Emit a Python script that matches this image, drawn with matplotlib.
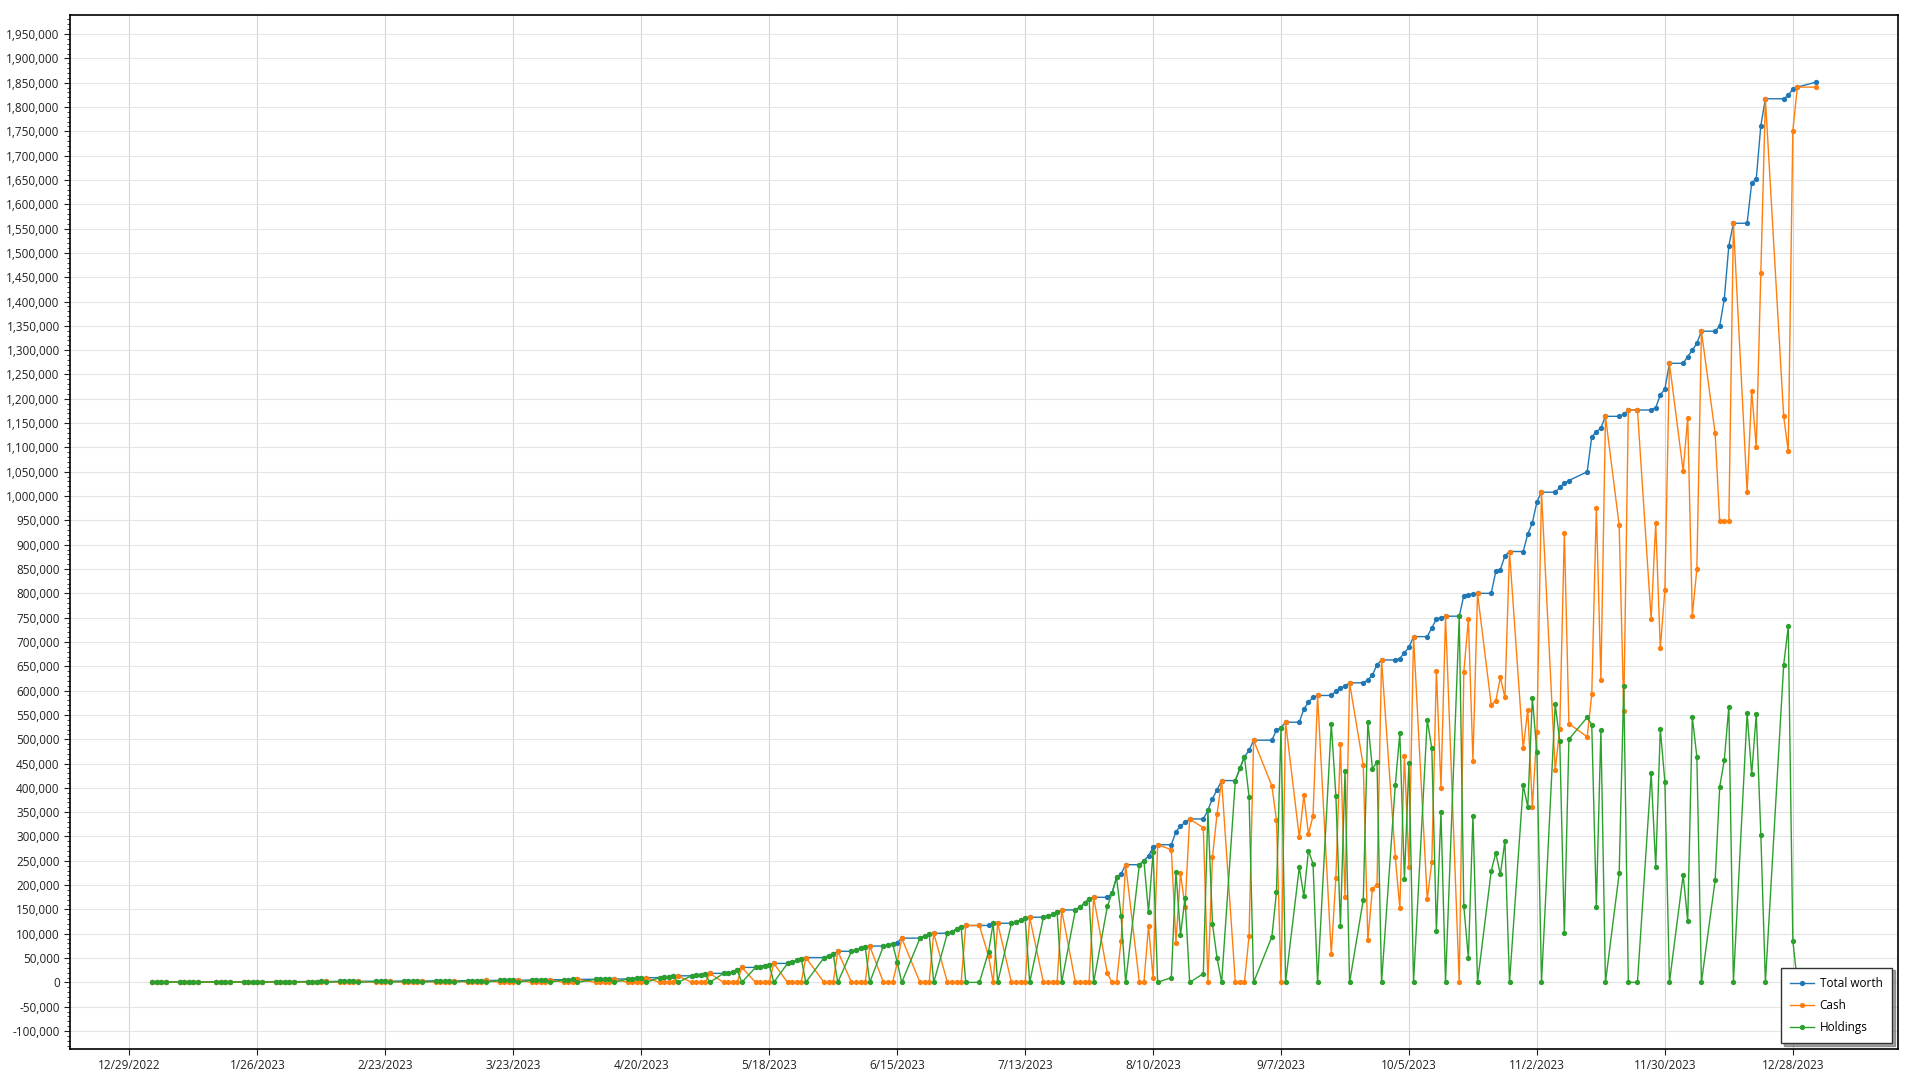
import numpy as np
import pandas as pd
import matplotlib
matplotlib.use("Agg")
import matplotlib.pyplot as plt
from matplotlib.ticker import FuncFormatter, MultipleLocator

plt.rcParams['font.family'] = ['Open Sans', 'DejaVu Sans']

# trading days (no data on 11/10)
holidays = ['2023-01-02', '2023-01-16', '2023-02-20', '2023-04-07', '2023-05-29',
            '2023-06-19', '2023-07-04', '2023-09-04', '2023-11-10', '2023-11-23',
            '2023-12-25', '2024-01-01']
dates = pd.bdate_range('2023-01-03', '2024-01-02', freq='C', holidays=holidays)

# values in thousands, one line per week
total_k = [
    1.00, 1.01, 1.03, 1.06,
    1.06, 1.08, 1.10, 1.13, 1.16,
    1.16, 1.20, 1.24, 1.28,
    1.28, 1.32, 1.36, 1.40, 1.45,
    1.45, 1.50, 1.55, 1.60, 1.65,
    1.65, 1.70, 1.75, 1.82, 1.90,
    1.90, 1.95, 2.00, 2.10, 2.20,
    2.20, 2.30, 2.40, 2.50,
    2.50, 2.60, 2.70, 2.80, 2.90,
    2.90, 3.00, 3.10, 3.25, 3.40,
    3.40, 3.55, 3.70, 3.85, 4.00,
    4.00, 4.15, 4.30, 4.45, 4.60,
    4.60, 4.80, 5.00, 5.20, 5.40,
    5.40, 5.70, 6.00, 6.20,
    6.20, 6.40, 6.60, 6.80, 7.00,
    7.00, 7.60, 8.40, 9.00, 9.60,
    9.60, 10.5, 11.5, 12.5, 13.5,
    13.5, 14.5, 15.5, 16.8, 18.5,
    18.5, 19.5, 20.6, 25.0, 30.8,
    30.8, 32.5, 34.5, 36.5, 39.0,
    39.0, 41.0, 45.0, 49.0, 51.0,
    51.0, 55.0, 58.0, 64.0,
    64.0, 66.5, 70.0, 73.0, 74.7,
    74.7, 77.0, 79.0, 81.6, 91.0,
    91.0, 96.0, 99.4, 101.0,
    101.0, 104.0, 110.0, 113.0, 117.0,
    117.0, 117.0, 121.6, 121.6,
    121.6, 124.0, 128.0, 132.0, 134.0,
    134.0, 137.0, 140.0, 144.0, 149.0,
    149.0, 154.5, 163.0, 172.0, 175.0,
    175.0, 183.0, 216.0, 223.0, 242.0,
    242.0, 250.0, 260.0, 278.0, 283.0,
    283.0, 310.0, 321.5, 329.0, 336.0,
    336.0, 354.0, 378.0, 396.0, 415.0,
    415.0, 440.0, 464.0, 477.0, 498.0,
    498.0, 519.0, 524.0, 535.0,
    535.0, 562.0, 576.0, 586.0, 590.0,
    590.0, 599.0, 606.0, 609.0, 616.0,
    616.0, 622.0, 632.0, 653.0, 663.0,
    663.0, 666.0, 678.0, 689.0, 711.0,
    711.0, 729.0, 747.0, 750.0, 753.0,
    753.0, 795.0, 797.0, 799.0, 800.0,
    800.0, 845.0, 849.0, 877.0, 886.0,
    886.0, 922.0, 945.0, 988.0, 1008.0,
    1008.0, 1018.0, 1026.0, 1032.0,
    1050.0, 1122.0, 1132.0, 1140.0, 1164.0,
    1164.0, 1168.0, 1177.0, 1177.0,
    1177.0, 1182.0, 1208.0, 1220.0, 1273.0,
    1273.0, 1287.0, 1300.0, 1314.0, 1339.0,
    1339.0, 1350.0, 1405.0, 1515.0, 1561.0,
    1561.0, 1644.0, 1652.0, 1762.0, 1817.0,
    1817.0, 1824.0, 1837.0, 1841.0,
    1851.0,
]

cash_k = [
    0, 0, 0, 1.06,
    0, 0, 0, 0, 1.16,
    0, 0, 0, 1.28,
    0, 0, 0, 0, 1.45,
    0, 0, 0, 0, 1.65,
    0, 0, 0, 0, 1.90,
    0, 0, 0, 0, 2.20,
    0, 0, 0, 2.50,
    0, 0, 0, 0, 2.90,
    0, 0, 0, 0, 3.40,
    0, 0, 0, 0, 4.00,
    0, 0, 0, 0, 4.60,
    0, 0, 0, 0, 5.40,
    0, 0, 0, 6.20,
    0, 0, 0, 0, 7.00,
    0, 0, 0, 0, 9.60,
    0, 0, 0, 0, 13.5,
    0, 0, 0, 0, 18.5,
    0, 0, 0, 0, 30.8,
    0, 0, 0, 0, 39.0,
    0, 0, 0, 0, 51.0,
    0, 0, 0, 64.0,
    0, 0, 0, 0, 74.7,
    0, 0, 0, 39.6, 91.0,
    0, 0, 0, 101.0,
    0, 0, 0, 0, 117.0,
    117.0, 54.0, 0, 121.6,
    0, 0, 0, 0, 134.0,
    0, 0, 0, 0, 149.0,
    0, 0, 0, 0, 175.0,
    18.5, 0, 0, 86.0, 242.0,
    0, 0, 116.0, 9.6, 283.0,
    273.0, 82.0, 224.0, 155.6, 336.0,
    318.0, 0, 258.0, 346.0, 415.0,
    0, 0, 0, 95.0, 498.0,
    404.0, 334.0, 0, 535.0,
    298.0, 385.0, 305.0, 342.0, 590.0,
    58.0, 215.0, 490.0, 175.0, 616.0,
    446.0, 87.0, 193.0, 200.0, 663.0,
    258.0, 153.0, 466.0, 237.0, 711.0,
    171.0, 248.0, 641.0, 400.0, 753.0,
    0, 638.0, 747.0, 456.0, 800.0,
    571.0, 579.0, 627.0, 586.0, 886.0,
    481.0, 561.0, 360.0, 515.0, 1008.0,
    436.0, 522.0, 925.0, 532.0,
    505.0, 592.0, 976.0, 621.0, 1164.0,
    940.0, 558.0, 1177.0, 1177.0,
    747.0, 945.0, 687.0, 807.0, 1273.0,
    1052.0, 1161.0, 754.0, 850.0, 1339.0,
    1129.0, 948.0, 948.0, 948.0, 1561.0,
    1008.0, 1216.0, 1100.0, 1458.0, 1817.0,
    1164.0, 1092.0, 1751.0, 1841.0,
    1841.0,
]

holdings_k = [
    1.00, 1.01, 1.03, 0,
    1.06, 1.08, 1.10, 1.13, 0,
    1.16, 1.20, 1.24, 0,
    1.28, 1.32, 1.36, 1.40, 0,
    1.45, 1.50, 1.55, 1.60, 0,
    1.65, 1.70, 1.75, 1.82, 0,
    1.90, 1.95, 2.00, 2.10, 0,
    2.20, 2.30, 2.40, 0,
    2.50, 2.60, 2.70, 2.80, 0,
    2.90, 3.00, 3.10, 3.25, 0,
    3.40, 3.55, 3.70, 3.85, 0,
    4.00, 4.15, 4.30, 4.45, 0,
    4.60, 4.80, 5.00, 5.20, 0,
    5.40, 5.70, 6.00, 0,
    6.20, 6.40, 6.60, 6.80, 0,
    7.00, 7.60, 8.40, 9.00, 0,
    9.60, 10.5, 11.5, 12.5, 0,
    13.5, 14.5, 15.5, 16.8, 0,
    18.5, 19.5, 20.6, 25.0, 0,
    30.8, 32.5, 34.5, 36.5, 0,
    39.0, 41.0, 45.0, 49.0, 0,
    51.0, 55.0, 58.0, 0,
    64.0, 66.5, 70.0, 73.0, 0,
    74.7, 77.0, 79.0, 42.0, 0,
    91.0, 96.0, 99.4, 0,
    101.0, 104.0, 110.0, 113.0, 0,
    0, 63.0, 121.6, 0,
    121.6, 124.0, 128.0, 132.0, 0,
    134.0, 137.0, 140.0, 144.0, 0,
    149.0, 154.5, 163.0, 172.0, 0,
    156.5, 183.0, 216.0, 137.0, 0,
    242.0, 250.0, 144.0, 268.4, 0,
    10.0, 228.0, 97.5, 173.4, 0,
    18.0, 354.0, 120.0, 50.0, 0,
    415.0, 440.0, 464.0, 382.0, 0,
    94.0, 185.0, 524.0, 0,
    237.0, 177.0, 271.0, 244.0, 0,
    532.0, 384.0, 116.0, 434.0, 0,
    170.0, 535.0, 439.0, 453.0, 0,
    405.0, 513.0, 212.0, 452.0, 0,
    540.0, 481.0, 106.0, 350.0, 0,
    753.0, 157.0, 50.0, 343.0, 0,
    229.0, 266.0, 222.0, 291.0, 0,
    405.0, 361.0, 585.0, 473.0, 0,
    572.0, 496.0, 101.0, 500.0,
    545.0, 530.0, 156.0, 519.0, 0,
    224.0, 610.0, 0, 0,
    430.0, 237.0, 521.0, 413.0, 0,
    221.0, 126.0, 546.0, 464.0, 0,
    210.0, 402.0, 457.0, 567.0, 0,
    553.0, 428.0, 552.0, 304.0, 0,
    653.0, 732.0, 86.0, 0,
    10.0,
]

assert len(dates) == len(total_k) == len(cash_k) == len(holdings_k)

total = np.array(total_k) * 1000
cash = np.array(cash_k) * 1000
holdings = np.array(holdings_k) * 1000

fig = plt.figure(figsize=(19.2, 10.8), dpi=100)
ax = fig.add_axes([0.0365, 0.0287, 0.952, 0.9573])

style = dict(linewidth=1.0, marker='o', markersize=3.8, markeredgewidth=0)
ax.plot(dates, total, color='#1f77b4', label='Total worth', **style)
ax.plot(dates, cash, color='#ff7f0e', label='Cash', **style)
ax.plot(dates, holdings, color='#2ca02c', label='Holdings', **style)

# axes
ax.set_xlim(pd.Timestamp('2022-12-16'), pd.Timestamp('2024-01-20'))
ax.set_ylim(-137000, 1989000)

xticks = pd.date_range('2022-12-29', periods=14, freq='28D')
ax.set_xticks(xticks)
ax.set_xticklabels([f"{d.month}/{d.day}/{d.year}" for d in xticks])
ax.yaxis.set_major_locator(MultipleLocator(50000))
ax.yaxis.set_minor_locator(MultipleLocator(10000))
ax.yaxis.set_major_formatter(FuncFormatter(lambda v, p: f"{v:,.0f}"))

ax.tick_params(axis='both', labelsize=8.5, colors='#222222', length=4, width=0.8)
ax.tick_params(axis='y', which='minor', length=2, width=0.6, color='#222222')
ax.tick_params(axis='x', pad=3)

ax.grid(True, axis='x', color='#d6d6d6', linewidth=0.8)
ax.grid(True, axis='y', color='#e4e4e4', linewidth=0.8)
ax.set_axisbelow(True)
for s in ax.spines.values():
    s.set_color('black')
    s.set_linewidth(1.2)

leg = ax.legend(loc='lower right', fontsize=8.5, frameon=True, fancybox=False,
                shadow=True, borderaxespad=0.5, handlelength=2.0,
                labelspacing=0.75, borderpad=0.8, handletextpad=0.5)
leg.get_frame().set_edgecolor('#333333')
leg.get_frame().set_linewidth(1.0)

fig.savefig('out.png', dpi=100)
